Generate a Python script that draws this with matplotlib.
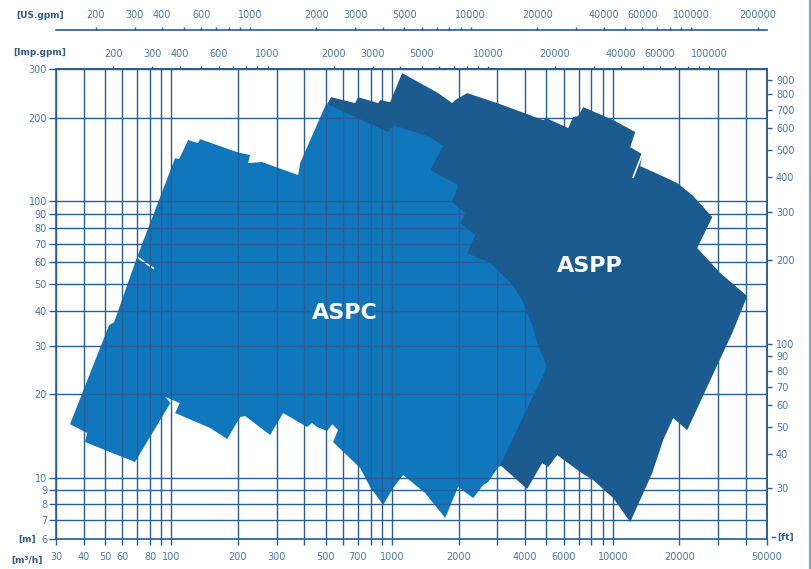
import matplotlib
matplotlib.use('Agg')
import matplotlib.pyplot as plt
from matplotlib.lines import Line2D
from matplotlib.ticker import NullLocator, NullFormatter

plt.rcParams['font.family'] = ['DejaVu Sans']

# 유량 Q [m3/h], 양정 H [m] - 작동 범위 외곽선
aspc_q = [34.7, 52.2, 55.0, 69.9, 103.9, 108.3, 119.0, 132.1, 134.9, 198.4, 227.3, 222.6,
          257.6, 375.1, 383.0, 502, 1087, 2506, 4690, 7118, 6413, 3806, 3025, 2725, 2586,
          2330, 1992, 1740, 1536, 1412, 1122, 1011, 911, 795, 717, 540, 569, 535, 508, 457,
          434, 412, 321, 280, 216, 205, 179, 150, 104, 109, 94, 99, 68.4, 40.6, 41.5]
aspc_h = [15.6, 35.6, 36.5, 62.7, 142.9, 141.7, 166.0, 162.0, 167.4, 150.2, 146.6, 137.1,
          138.3, 124.1, 137.1, 224, 213, 140.6, 66.5, 28.9, 16.15, 12.07, 10.9, 9.64, 9.40,
          8.44, 9.25, 7.15, 8.09, 8.80, 10.22, 9.17, 7.96, 9.25, 10.83, 13.45, 14.86, 15.6,
          14.74, 15.24, 15.76, 15.24, 17.12, 14.26, 16.70, 16.56, 13.79, 15.11, 17.12, 18.61,
          19.56, 18.61, 11.39, 13.45, 14.50]

aspp_q = [529, 680, 702, 865, 883, 980, 1110, 1617, 1872, 1931, 2189, 2994, 3359, 4838,
          4992, 6281, 6617, 6972, 7345, 10046, 12643, 12000, 13597, 13316, 16412, 19600,
          22920, 28240, 24140, 30700, 40690, 34790, 30060, 21750, 18790, 16930, 15090,
          12000, 10046, 8155, 7118, 5600, 5097, 4788, 4094, 3089, 4181, 5044, 4545, 4360,
          3886, 3429, 2783, 2189, 2380, 2034, 2144, 1872, 1992, 1488, 1704, 1488, 1011,
          960, 508]
aspp_h = [237.4, 225.9, 237.4, 225.9, 231.5, 227.8, 290.0, 245.5, 225.9, 231.5, 245.5,
          225.9, 218.5, 196.1, 199.4, 183.5, 201.1, 202.8, 218.5, 196.1, 177.5, 156.6,
          147.7, 133.7, 124.1, 116.1, 105.1, 87.5, 67.6, 54.9, 45.3, 33.3, 25.96, 14.86,
          16.42, 13.68, 10.39, 6.91, 8.44, 9.80, 10.48, 12.07, 10.93, 11.29, 9.10, 11.11,
          18.46, 25.11, 30.65, 34.74, 43.85, 50.9, 59.7, 64.8, 75.3, 83.2, 90.4, 99.1,
          114.2, 129.4, 157.9, 170.2, 188.1, 177.5, 224.0]

# 틈(흰 선)
aspc_gap_q = [69.9, 82.6]
aspc_gap_h = [62.7, 57.2]
aspp_gap_q = [13597, 12380]
aspp_gap_h = [147.7, 122.0]

series_names = ['ASPC', 'ASPP']
name_q = [613, 7900]
name_h = [39.4, 58.2]

# 축 눈금
grid_q = [30, 40, 50, 60, 70, 80, 90, 100, 200, 300, 400, 500, 600, 700, 800, 900,
          1000, 2000, 3000, 4000, 5000, 6000, 7000, 8000, 9000, 10000, 20000, 30000,
          40000, 50000]
q_shown = [30, 40, 50, 60, 80, 100, 200, 300, 500, 700, 1000, 2000, 4000, 6000, 10000,
           20000, 50000]
grid_h = [6, 7, 8, 9, 10, 20, 30, 40, 50, 60, 70, 80, 90, 100, 200, 300]
ft_ticks = [30, 40, 50, 60, 70, 80, 90, 100, 200, 300, 400, 500, 600, 700, 800, 900]

gpm_ticks = [200, 300, 400, 500, 600, 700, 800, 900, 1000, 2000, 3000, 4000, 5000, 6000,
             7000, 8000, 9000, 10000, 20000, 30000, 40000, 50000, 60000, 70000, 80000,
             90000, 100000, 200000]
gpm_shown = [200, 300, 400, 600, 1000, 2000, 3000, 5000, 10000, 20000, 40000, 60000,
             100000, 200000]
gpm_long = [1000, 10000, 100000]

C_ASPC = '#1077bd'
C_ASPP = '#1b5b8f'
LINE = '#2a5d94'
TXT = '#4a79aa'
LBL = '#2d5b8c'

fig = plt.figure(figsize=(8.12, 5.69), dpi=100)
ax = fig.add_axes([0.069, 0.0527, 0.8756, 0.826])
ax.set_xscale('log')
ax.set_yscale('log')
ax.set_xlim(30, 50000)
ax.set_ylim(6, 300)

ax.fill(aspc_q, aspc_h, color=C_ASPC, lw=0, zorder=1)
ax.plot(aspc_gap_q, aspc_gap_h, color='white', lw=1.2, zorder=1.5)
ax.fill(aspp_q, aspp_h, color=C_ASPP, lw=0, zorder=3)
ax.plot(aspp_gap_q, aspp_gap_h, color='white', lw=1.2, zorder=3.5)

for name, q, h in zip(series_names, name_q, name_h):
    ax.text(q, h, name, color='white', fontsize=16, fontweight='bold',
            ha='center', va='center', zorder=4)

ax.set_axisbelow(False)
ax.set_xticks(grid_q, labels=[str(v) if v in q_shown else '' for v in grid_q])
ax.set_yticks(grid_h, labels=[str(v) for v in grid_h])
ax.xaxis.set_minor_locator(NullLocator())
ax.yaxis.set_minor_locator(NullLocator())
ax.grid(True, color=LINE, lw=1.0)
ax.tick_params(axis='x', length=4, width=1, color=LINE, labelcolor=TXT,
               labelsize=7, pad=5.5)
ax.tick_params(axis='y', length=5, width=1, color=LINE, labelcolor=TXT,
               labelsize=7, pad=1.5)
for s in ax.spines.values():
    s.set_color(LINE)
    s.set_linewidth(1.2)

# 오른쪽 ft 축
ft = ax.secondary_yaxis('right', functions=(lambda m: m * 3.28084, lambda f: f / 3.28084))
ft.set_yticks(ft_ticks, labels=[str(v) for v in ft_ticks])
ft.yaxis.set_minor_locator(NullLocator())
ft.tick_params(length=3.5, width=1, color=LINE, labelcolor=TXT, labelsize=7, pad=3)
ft.spines['right'].set_color(LINE)
ft.spines['right'].set_linewidth(1.2)

# 위쪽 gpm 축 (Imp, US)
imp = ax.secondary_xaxis('top', functions=(lambda q: q * 3.6662, lambda g: g / 3.6662))
us = ax.secondary_xaxis(1.083, functions=(lambda q: q * 4.4029, lambda g: g / 4.4029))
for sx in (imp, us):
    sx.set_xticks(gpm_ticks, labels=[str(v) if v in gpm_shown else '' for v in gpm_ticks])
    sx.set_xticks(gpm_long, minor=True)
    sx.xaxis.set_minor_formatter(NullFormatter())
    sx.tick_params(which='major', length=2.5, width=1, color=LINE, labelcolor=TXT,
                   labelsize=7, pad=5)
    sx.tick_params(which='minor', length=5, width=1, color=LINE)
    sx.spines['top'].set_color(LINE)
    sx.spines['top'].set_linewidth(1.2)

fig.text(0.0493, 0.9736, '[US.gpm]', color=LBL, fontsize=6.5, fontweight='bold',
         ha='center', va='center')
fig.text(0.0493, 0.9069, '[Imp.gpm]', color=LBL, fontsize=6.5, fontweight='bold',
         ha='center', va='center')
fig.text(0.0333, 0.0527, '[m]', color=LBL, fontsize=6.5, fontweight='bold',
         ha='center', va='center')
fig.text(0.0333, 0.0158, '[m³/h]', color=LBL, fontsize=6.5, fontweight='bold',
         ha='center', va='center')
fig.text(0.957, 0.0562, '[ft]', color=LBL, fontsize=6.5, fontweight='bold',
         ha='left', va='center')
fig.add_artist(Line2D([0.955, 0.951], [0.0562, 0.0562], transform=fig.transFigure,
                      color=LINE, lw=1))
fig.add_artist(Line2D([0.9975, 0.9975], [0, 1], transform=fig.transFigure,
                      color='#6aa8dc', lw=1.5))

fig.savefig('out.png', dpi=100)
